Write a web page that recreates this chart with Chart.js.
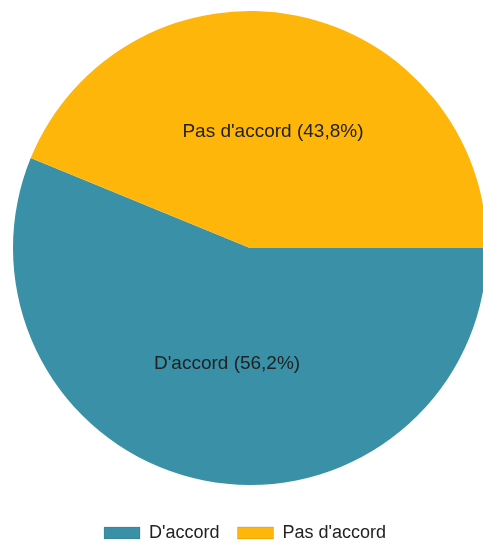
<!DOCTYPE html>
<html>
<head>
<meta charset="utf-8">
<script src="https://cdn.jsdelivr.net/npm/chart.js@4"></script>
<style>
  html, body { margin:0; padding:0; background:#fff; overflow:hidden; width:483px; height:543px; }
  #wrap { position:absolute; left:0; top:-10px; width:500px; height:562px; }
</style>
</head>
<body>
<div id="wrap"><canvas id="pie"></canvas></div>
<script>
const labels = ["D'accord", "Pas d'accord"];
const values = [56.2, 43.8];
const colors = ['#3A90A6', '#FEB60B'];

const FONT = "'Liberation Sans', Arial, sans-serif";

// label "Nom (xx,x%)" au milieu de chaque part
const sliceLabels = {
  id: 'sliceLabels',
  afterDatasetsDraw(chart){
    const ctx = chart.ctx;
    const meta = chart.getDatasetMeta(0);
    const total = values.reduce((a,b)=>a+b,0);
    ctx.save();
    ctx.font = '19px ' + FONT;
    ctx.fillStyle = '#222';
    ctx.textAlign = 'center';
    ctx.textBaseline = 'middle';
    meta.data.forEach((arc,i)=>{
      const p = arc.getCenterPoint();
      const pct = (values[i] / total * 100).toFixed(1).replace('.', ',');
      ctx.fillText(labels[i] + ' (' + pct + '%)', p.x, p.y);
    });
    ctx.restore();
  }
};

// legende un peu decalee vers la gauche
const legendShift = {
  id: 'legendShift',
  afterLayout(chart){
    if(chart.legend){ chart.legend.left -= 5; chart.legend.right -= 5; }
  }
};

new Chart(document.getElementById('pie'), {
  type: 'pie',
  data: {
    labels: labels,
    datasets: [{ data: values, backgroundColor: colors, borderWidth: 0 }]
  },
  options: {
    responsive: true,
    maintainAspectRatio: false,
    animation: false,
    rotation: 90,
    radius: 237,
    layout: { padding: 0 },
    plugins: {
      tooltip: { enabled: false },
      legend: {
        position: 'bottom',
        labels: {
          boxWidth: 36,
          boxHeight: 12,
          padding: 18,
          color: '#222',
          font: { family: FONT, size: 18 },
          generateLabels: chart => Chart.overrides.pie.plugins.legend.labels.generateLabels(chart)
            .map(l => Object.assign(l, { lineWidth: 1, strokeStyle: 'rgba(0,0,0,0.12)' }))
        }
      }
    }
  },
  plugins: [sliceLabels, legendShift]
});
</script>
</body>
</html>
